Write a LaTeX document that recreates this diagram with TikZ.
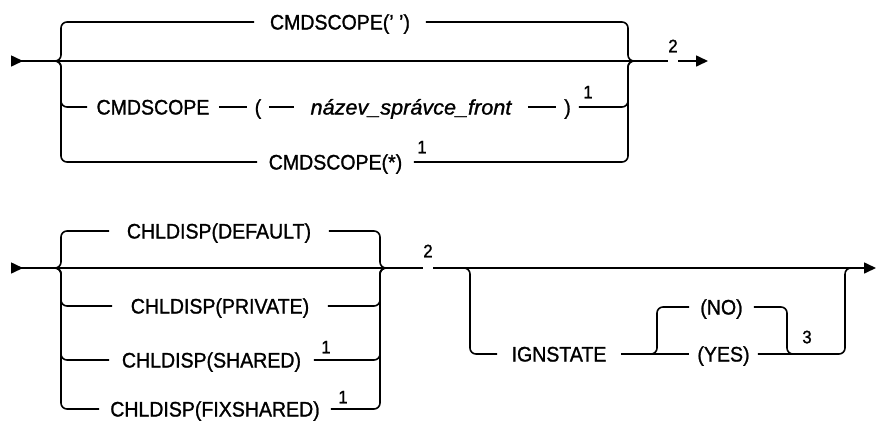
\documentclass[tikz,border=0pt]{standalone}
\usepackage{fontspec}
\setmainfont{Liberation Sans}[FakeBold=1.2, FakeStretch=0.93]
\newfontfamily\argfont{Liberation Sans}[FakeBold=1.2, FakeStretch=1.03]
\usepackage{tikz}
\usetikzlibrary{arrows.meta,positioning}

\begin{document}
\begin{tikzpicture}[
  x=1pt, y=-1pt,
  line width=1.6pt,
  font=\fontsize{21}{24}\selectfont,
  kw/.style={inner sep=0pt, minimum width=#1, text height=15pt, text depth=0pt},
  note/.style={inner sep=0pt, text height=12.5pt, text depth=0pt, font=\fontsize{18}{20}\selectfont},
  rail/.style={rounded corners=6pt},
  >={Triangle[length=12pt,width=11pt]}
]
\useasboundingbox (0,0) rectangle (877,421);

% CMDSCOPE
\coordinate (in1) at (11,61);
\coordinate (jl1) at (55,61);
\coordinate (bl1) at (61,61);
\coordinate (br1) at (628,61);
\coordinate (jr1) at (634,61);
\coordinate (out1) at (708,61);
\node[kw=170] (cs0) at (340,22) {CMDSCOPE(' ')};
\node[kw=130] (cs1) at (153,107) {CMDSCOPE};
\node[kw=20] (lp) at (258,107) {(};
\node[kw=232] (mgr) at (411,107) {\argfont\itshape název\_správce\_front\hspace{14pt}};
\node[kw=21] (rp) at (567.5,107) {)};
\node[kw=155] (cs2) at (335.5,162) {CMDSCOPE(*)};
\node[note] (n1a) at (588,92) {1};
\node[note] (n1b) at (422,147) {1};
\node[note] (n2a) at (673,46) {2};
\draw[{Triangle[reversed,length=12pt,width=11pt]}-] (in1) -- (in1 -| n2a.west);
\draw[->] (in1 -| n2a.east) -- (out1);
\draw[rail] (jl1) -| (cs0 -| bl1) -- (cs0.west);
\draw[rail] (cs0.east) -| (br1) -- (jr1);
\draw[rail] (jl1) -| (cs1 -| bl1) -- (cs1.west);
\draw (cs1.east) -- (lp.west) (lp.east) -- (mgr.west) (mgr.east) -- (rp.west);
\draw[rail] (rp.east) -| (br1) -- (jr1);
\draw[rail] (jl1) -| (cs2 -| bl1) -- (cs2.west);
\draw[rail] (cs2.east) -| (br1) -- (jr1);

% CHLDISP
\coordinate (in2) at (11,268);
\coordinate (jl2) at (55,268);
\coordinate (bl2) at (61,268);
\coordinate (br2) at (380,268);
\coordinate (jr2) at (386,268);
\coordinate (out2) at (876,268);
\node[kw=218] (cd0) at (219,231) {CHLDISP(DEFAULT)};
\node[kw=214] (cd1) at (220,306) {CHLDISP(PRIVATE)};
\node[kw=203] (cd2) at (211.5,360) {CHLDISP(SHARED)};
\node[kw=230] (cd3) at (215,409) {CHLDISP(FIXSHARED)};
\node[note] (n1c) at (326,347) {1};
\node[note] (n1d) at (343,397) {1};
\node[note] (n2b) at (428,251) {2};
\draw[{Triangle[reversed,length=12pt,width=11pt]}-] (in2) -- (in2 -| n2b.west);
\draw[->] (in2 -| n2b.east) -- (out2);
\draw[rail] (jl2) -| (cd0 -| bl2) -- (cd0.west);
\draw[rail] (cd0.east) -| (br2) -- (jr2);
\draw[rail] (jl2) -| (cd1 -| bl2) -- (cd1.west);
\draw[rail] (cd1.east) -| (br2) -- (jr2);
\draw[rail] (jl2) -| (cd2 -| bl2) -- (cd2.west);
\draw[rail] (cd2.east) -| (br2) -- (jr2);
\draw[rail] (jl2) -| (cd3 -| bl2) -- (cd3.west);
\draw[rail] (cd3.east) -| (br2) -- (jr2);

% IGNSTATE
\coordinate (jl3) at (463,268);
\coordinate (bl3) at (470,268);
\coordinate (br3) at (845,268);
\coordinate (jr3) at (851,268);
\coordinate (jl4) at (651,354);
\coordinate (bl4) at (657,354);
\coordinate (br4) at (787,354);
\coordinate (jr4) at (793,354);
\node[kw=122] (ign) at (559,354) {IGNSTATE};
\node[kw=63] (no) at (721.5,307) {(NO)};
\node[kw=67] (yes) at (723.5,354) {(YES)};
\node[note] (n3) at (807,337) {3};
\draw[rail] (jl3) -| (ign -| bl3) -- (ign.west);
\draw (ign.east) -- (yes.west);
\draw[rail] (jl4) -| (no -| bl4) -- (no.west);
\draw[rail] (no.east) -| (br4) -- (jr4);
\draw[rail] (yes.east) -| (br3) -- (jr3);
\end{tikzpicture}
\end{document}
